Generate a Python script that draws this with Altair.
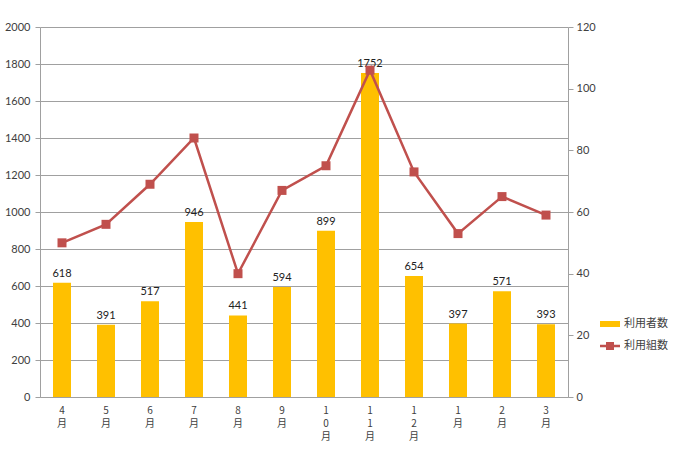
import altair as alt
import pandas as pd

months = ["4月", "5月", "6月", "7月", "8月", "9月", "10月", "11月", "12月", "1月", "2月", "3月"]
users = [618, 391, 517, 946, 441, 594, 899, 1752, 654, 397, 571, 393]
groups = [50, 56, 69, 84, 40, 67, 75, 106, 73, 53, 65, 59]

df = pd.DataFrame({
    "month": months,
    "users": users,
    "groups": groups,
    "s1": ["利用者数"] * len(months),
    "s2": ["利用組数"] * len(months),
})

NUM_FONT = "Lato"
JP_FONT = "Noto Sans CJK JP"
GRID = "#A0A0A0"
LABEL = "#404040"

x = alt.X(
    "month:N",
    sort=months,
    title=None,
    scale=alt.Scale(paddingInner=0, paddingOuter=0),
    axis=alt.Axis(
        labelExpr="split(datum.label, '')",
        labelAngle=0,
        labelFont=JP_FONT,
        labelFontSize=10,
        labelLineHeight=13,
        labelColor=LABEL,
        labelPadding=8,
        ticks=False,
        domainColor=GRID,
        grid=False,
    ),
)

bar_legend = alt.Legend(
    title=None,
    orient="none",
    legendX=560,
    legendY=287,
    symbolType="M-1,-0.3H1V0.3H-1Z",
    symbolSize=400,
    symbolStrokeWidth=0,
    labelFont=JP_FONT,
    labelFontSize=11,
    labelColor=LABEL,
)
line_legend = alt.Legend(
    title=None,
    orient="none",
    legendX=560,
    legendY=309,
    symbolType="M-1,-0.12H1V0.12H-1Z M-0.4,-0.4H0.4V0.4H-0.4Z",
    symbolSize=400,
    symbolStrokeWidth=0,
    labelFont=JP_FONT,
    labelFontSize=11,
    labelColor=LABEL,
)

y_left = alt.Y(
    "users:Q",
    title=None,
    scale=alt.Scale(domain=[0, 2000], nice=False),
    axis=alt.Axis(
        values=list(range(0, 2001, 200)),
        format="d",
        grid=True,
        gridColor=GRID,
        domainColor=GRID,
        tickColor=GRID,
        tickSize=5,
        labelFont=NUM_FONT,
        labelFontSize=11,
        labelColor=LABEL,
        labelPadding=5,
    ),
)

bars = alt.Chart(df).mark_bar(size=18).encode(
    x=x,
    y=y_left,
    color=alt.Color(
        "s1:N",
        scale=alt.Scale(domain=["利用者数"], range=["#FFC000"]),
        legend=bar_legend,
    ),
)

labels = alt.Chart(df).mark_text(
    baseline="bottom", dy=-4, font=NUM_FONT, fontSize=11, color="#222222"
).encode(x=x, y=y_left, text="users:Q")

y_right = alt.Y(
    "groups:Q",
    title=None,
    scale=alt.Scale(domain=[0, 120], nice=False),
    axis=alt.Axis(
        orient="right",
        values=list(range(0, 121, 20)),
        format="d",
        grid=False,
        domainColor=GRID,
        tickColor=GRID,
        tickSize=5,
        labelFont=NUM_FONT,
        labelFontSize=11,
        labelColor=LABEL,
        labelPadding=3,
    ),
)

line = alt.Chart(df).mark_line(strokeWidth=2.5, color="#C0504D").encode(x=x, y=y_right)
points = alt.Chart(df).mark_square(size=81, opacity=1).encode(
    x=x,
    y=y_right,
    color=alt.Color(
        "s2:N",
        scale=alt.Scale(domain=["利用組数"], range=["#C0504D"]),
        legend=line_legend,
    ),
)

left = alt.layer(bars, labels)
right = alt.layer(line, points)

chart = (
    alt.layer(left, right)
    .resolve_scale(y="independent", color="independent")
    .resolve_legend(color="independent")
    .properties(
        width=528,
        height=370,
        autosize=alt.AutoSizeParams(type="none"),
        padding={"left": 40, "top": 27, "right": 117, "bottom": 53},
        background="white",
    )
    .configure_view(strokeWidth=0)
)

chart.save("out.html", embed_options={"renderer": "svg", "actions": False})
